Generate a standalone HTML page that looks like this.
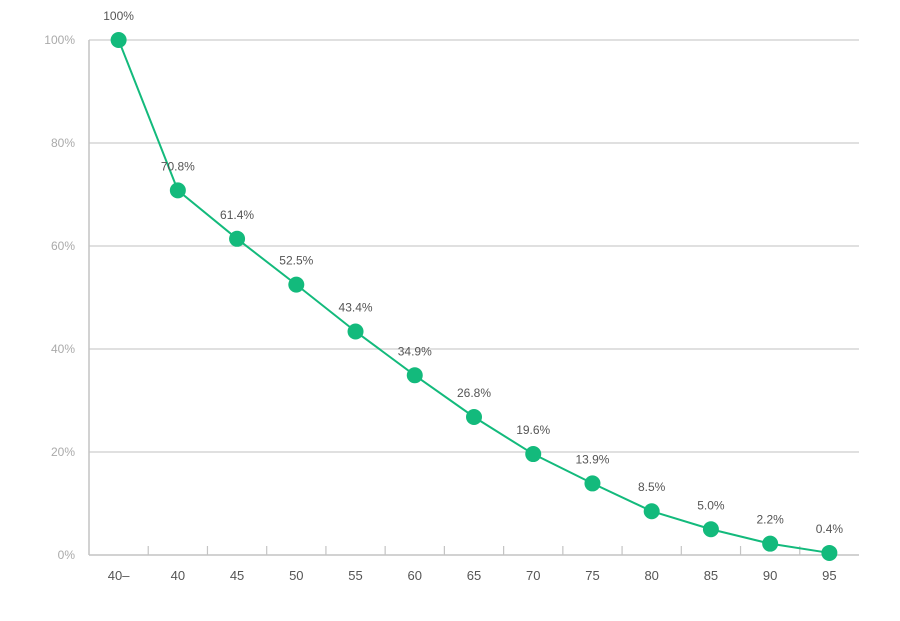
<!DOCTYPE html>
<html><head><style>body{margin:0;background:#fff}</style></head><body>
<svg width="900" height="616" xmlns="http://www.w3.org/2000/svg" font-family="Liberation Sans, sans-serif">
<g stroke="#d6d6d6" stroke-width="1.5">
<line x1="89" y1="40" x2="859" y2="40"/><line x1="89" y1="143" x2="859" y2="143"/>
<line x1="89" y1="246" x2="859" y2="246"/><line x1="89" y1="349" x2="859" y2="349"/>
<line x1="89" y1="452" x2="859" y2="452"/>
</g>
<g stroke="#c4c4c4" stroke-width="1.5">
<line x1="89" y1="40" x2="89" y2="555"/><line x1="89" y1="555" x2="859" y2="555"/>
</g>
<g stroke="#c4c4c4" stroke-width="1.2" id="ticks"></g>
<g font-size="12" fill="#aaa" text-anchor="end">
<text x="75" y="44">100%</text><text x="75" y="147">80%</text><text x="75" y="250">60%</text>
<text x="75" y="353">40%</text><text x="75" y="456">20%</text><text x="75" y="559">0%</text>
</g>
<g id="xl" font-size="13" fill="#555" text-anchor="middle"></g>
<polyline id="ln" fill="none" stroke="#13ba7c" stroke-width="2"/>
<g id="pts" fill="#13ba7c"></g>
<g id="lb" font-size="12" fill="#555" text-anchor="middle"></g>
</svg>
<script>
var v=[100,70.8,61.4,52.5,43.4,34.9,26.8,19.6,13.9,8.5,5.0,2.2,0.4];
var l=["100%","70.8%","61.4%","52.5%","43.4%","34.9%","26.8%","19.6%","13.9%","8.5%","5.0%","2.2%","0.4%"];
var c=["40–","40","45","50","55","60","65","70","75","80","85","90","95"];
var ns="http://www.w3.org/2000/svg",w=770/13,pts=[];
function el(t,a,p,tx){var e=document.createElementNS(ns,t);for(var k in a)e.setAttribute(k,a[k]);if(tx)e.textContent=tx;document.getElementById(p).appendChild(e);}
for(var i=0;i<13;i++){var x=89+w*(i+0.5),y=555-v[i]*5.15;pts.push(x+","+y);
el("circle",{cx:x,cy:y,r:8},"pts");el("text",{x:x,y:y-20},"lb",l[i]);el("text",{x:x,y:580},"xl",c[i]);
if(i>0)el("line",{x1:89+w*i,y1:546,x2:89+w*i,y2:555},"ticks");}
document.getElementById("ln").setAttribute("points",pts.join(" "));
</script>
</body></html>
